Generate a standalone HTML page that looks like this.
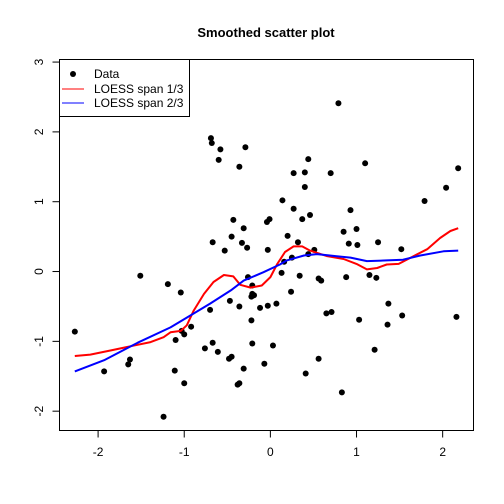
<!DOCTYPE html>
<html><head><meta charset="utf-8"><style>
html,body{margin:0;padding:0;background:#fff;}
svg{display:block;font-family:"Liberation Sans",Arial,sans-serif;}
</style></head><body>
<svg id="chart" width="504" height="504" viewBox="0 0 504 504" xmlns="http://www.w3.org/2000/svg">
<rect x="0" y="0" width="504" height="504" fill="#fff"/>
<text x="266" y="37" text-anchor="middle" font-size="13" font-weight="bold">Smoothed scatter plot</text>
<g id="axes"></g>
<g id="marks"></g>
<rect x="59.5" y="59.5" width="414" height="371" fill="none" stroke="#000" stroke-width="1"/>
<g id="legend">
<rect x="59.5" y="59.5" width="130" height="57" fill="#fff" stroke="#000" stroke-width="1"/>
<circle cx="73" cy="74" r="3" fill="#000"/>
<text x="94" y="78" font-size="12">Data</text>
<line x1="62" y1="89" x2="84" y2="89" stroke="#ff0000" stroke-width="1"/>
<text x="94" y="93" font-size="12">LOESS span 1/3</text>
<line x1="62" y1="103" x2="84" y2="103" stroke="#0000ff" stroke-width="1"/>
<text x="94" y="107" font-size="12">LOESS span 2/3</text>
</g>
</svg>
<script>
const dataX=[-0.99,-0.69,-0.68,-0.58,-0.29,-0.60,-0.36,-0.43,-0.31,-0.04,-0.01,-0.67,-0.45,-0.33,0.79,0.44,0.27,0.40,0.70,1.10,2.18,0.40,2.04,0.14,1.79,0.27,0.37,0.46,0.93,0.20,0.32,0.85,1.00,0.91,1.01,1.25,-0.27,-0.53,-0.03,-1.51,-1.19,-1.04,-0.26,-0.21,-0.21,-0.22,-0.19,-0.47,-0.36,-0.70,-0.12,-0.03,-2.27,-0.92,-1.03,-1.00,-1.10,-0.22,-0.67,-0.76,-0.61,-0.21,0.03,-1.63,-1.65,-1.93,-1.11,-0.48,-0.45,-0.31,-0.07,-1.00,-0.38,-0.36,-1.24,1.52,0.51,0.44,0.16,0.25,0.13,0.34,0.56,0.59,0.88,1.15,1.23,0.24,0.07,1.37,0.65,0.71,1.03,1.36,1.53,2.16,1.21,0.56,0.41,0.83];
const dataY=[2.84,1.91,1.84,1.75,1.78,1.60,1.50,0.74,0.62,0.71,0.75,0.42,0.50,0.41,2.41,1.61,1.41,1.42,1.41,1.55,1.48,1.21,1.20,1.02,1.01,0.90,0.75,0.81,0.88,0.51,0.42,0.57,0.61,0.40,0.38,0.42,0.34,0.30,0.31,-0.06,-0.18,-0.30,-0.08,-0.20,-0.32,-0.36,-0.34,-0.42,-0.50,-0.55,-0.52,-0.49,-0.86,-0.79,-0.85,-0.90,-0.98,-0.70,-1.02,-1.10,-1.15,-1.03,-1.06,-1.26,-1.33,-1.43,-1.42,-1.25,-1.22,-1.39,-1.32,-1.60,-1.62,-1.60,-2.08,0.32,0.31,0.25,0.14,0.20,-0.02,-0.06,-0.10,-0.13,-0.08,-0.05,-0.09,-0.29,-0.46,-0.46,-0.60,-0.58,-0.69,-0.76,-0.63,-0.65,-1.12,-1.25,-1.46,-1.73];
const redX=[-2.27,-2.09,-1.85,-1.62,-1.39,-1.24,-1.16,-1.04,-0.97,-0.89,-0.77,-0.66,-0.54,-0.43,-0.35,-0.23,-0.10,0,0.08,0.17,0.27,0.37,0.46,0.66,0.85,1.00,1.12,1.24,1.35,1.49,1.66,1.82,1.97,2.09,2.18];
const redY=[-1.21,-1.19,-1.13,-1.07,-1.01,-0.94,-0.87,-0.85,-0.77,-0.56,-0.32,-0.15,-0.05,-0.07,-0.19,-0.23,-0.20,-0.08,0.11,0.28,0.36,0.36,0.30,0.22,0.18,0.11,0.03,0.05,0.10,0.11,0.22,0.32,0.48,0.58,0.62];
const blueX=[-2.27,-1.93,-1.54,-1.16,-0.97,-0.70,-0.46,-0.31,-0.08,0.11,0.19,0.39,0.54,0.77,0.93,1.12,1.35,1.54,1.74,2.01,2.18];
const blueY=[-1.43,-1.27,-1.02,-0.80,-0.66,-0.46,-0.27,-0.13,-0.01,0.10,0.16,0.23,0.25,0.22,0.20,0.15,0.16,0.17,0.23,0.29,0.30];
const xTicks=[-2,-1,0,1,2];
const yTicks=[-2,-1,0,1,2,3];

const NS="http://www.w3.org/2000/svg";
const L=59.5,R=473.5,T=59.5,B=430.5;
function rng(a){const mn=Math.min(...a),mx=Math.max(...a),p=(mx-mn)*0.04;return [mn-p,mx+p];}
const xr=rng(dataX), yr=rng(dataY);
function sx(v){return L+(v-xr[0])/(xr[1]-xr[0])*(R-L);}
function sy(v){return B-(v-yr[0])/(yr[1]-yr[0])*(B-T);}
function mk(tag,attrs,parent){const e=document.createElementNS(NS,tag);for(const k in attrs)e.setAttribute(k,attrs[k]);parent.appendChild(e);return e;}
const axes=document.getElementById('axes'), marks=document.getElementById('marks');

const xAxis=mk('line',{x1:sx(xTicks[0]),x2:sx(xTicks[xTicks.length-1]),y1:B,y2:B,stroke:'#000'},axes);


xTicks.forEach(t=>{
  const ln=mk('line',{x1:sx(t),x2:sx(t),y1:B,y2:B+7,stroke:'#000'},axes);
  
  
  const tx=mk('text',{x:sx(t),y:456,'text-anchor':'middle','font-size':12},axes);
  
  
  tx.textContent=String(t);
});
const yAxis=mk('line',{x1:L,x2:L,y1:sy(yTicks[0]),y2:sy(yTicks[yTicks.length-1]),stroke:'#000'},axes);


yTicks.forEach(t=>{
  const ln=mk('line',{x1:L-7,x2:L,y1:sy(t),y2:sy(t),stroke:'#000'},axes);
  
  
  const y=sy(t);
  const tx=mk('text',{x:43,y:y,'text-anchor':'middle','font-size':12,transform:'rotate(-90 43 '+y+')'},axes);
  
  
  tx.textContent=String(t);
});

dataX.forEach((v,i)=>{
  const c=mk('circle',{cx:sx(v),cy:sy(dataY[i]),r:3,fill:'#000'},marks);
  
  
});
function path(xs,ys){return xs.map((v,i)=>(i?'L':'M')+sx(v).toFixed(1)+' '+sy(ys[i]).toFixed(1)).join(' ');}
const red=mk('path',{d:path(redX,redY),fill:'none',stroke:'#ff0000','stroke-width':2,'stroke-linejoin':'round'},marks);


const blue=mk('path',{d:path(blueX,blueY),fill:'none',stroke:'#0000ff','stroke-width':2,'stroke-linejoin':'round'},marks);


</script>
</body></html>
